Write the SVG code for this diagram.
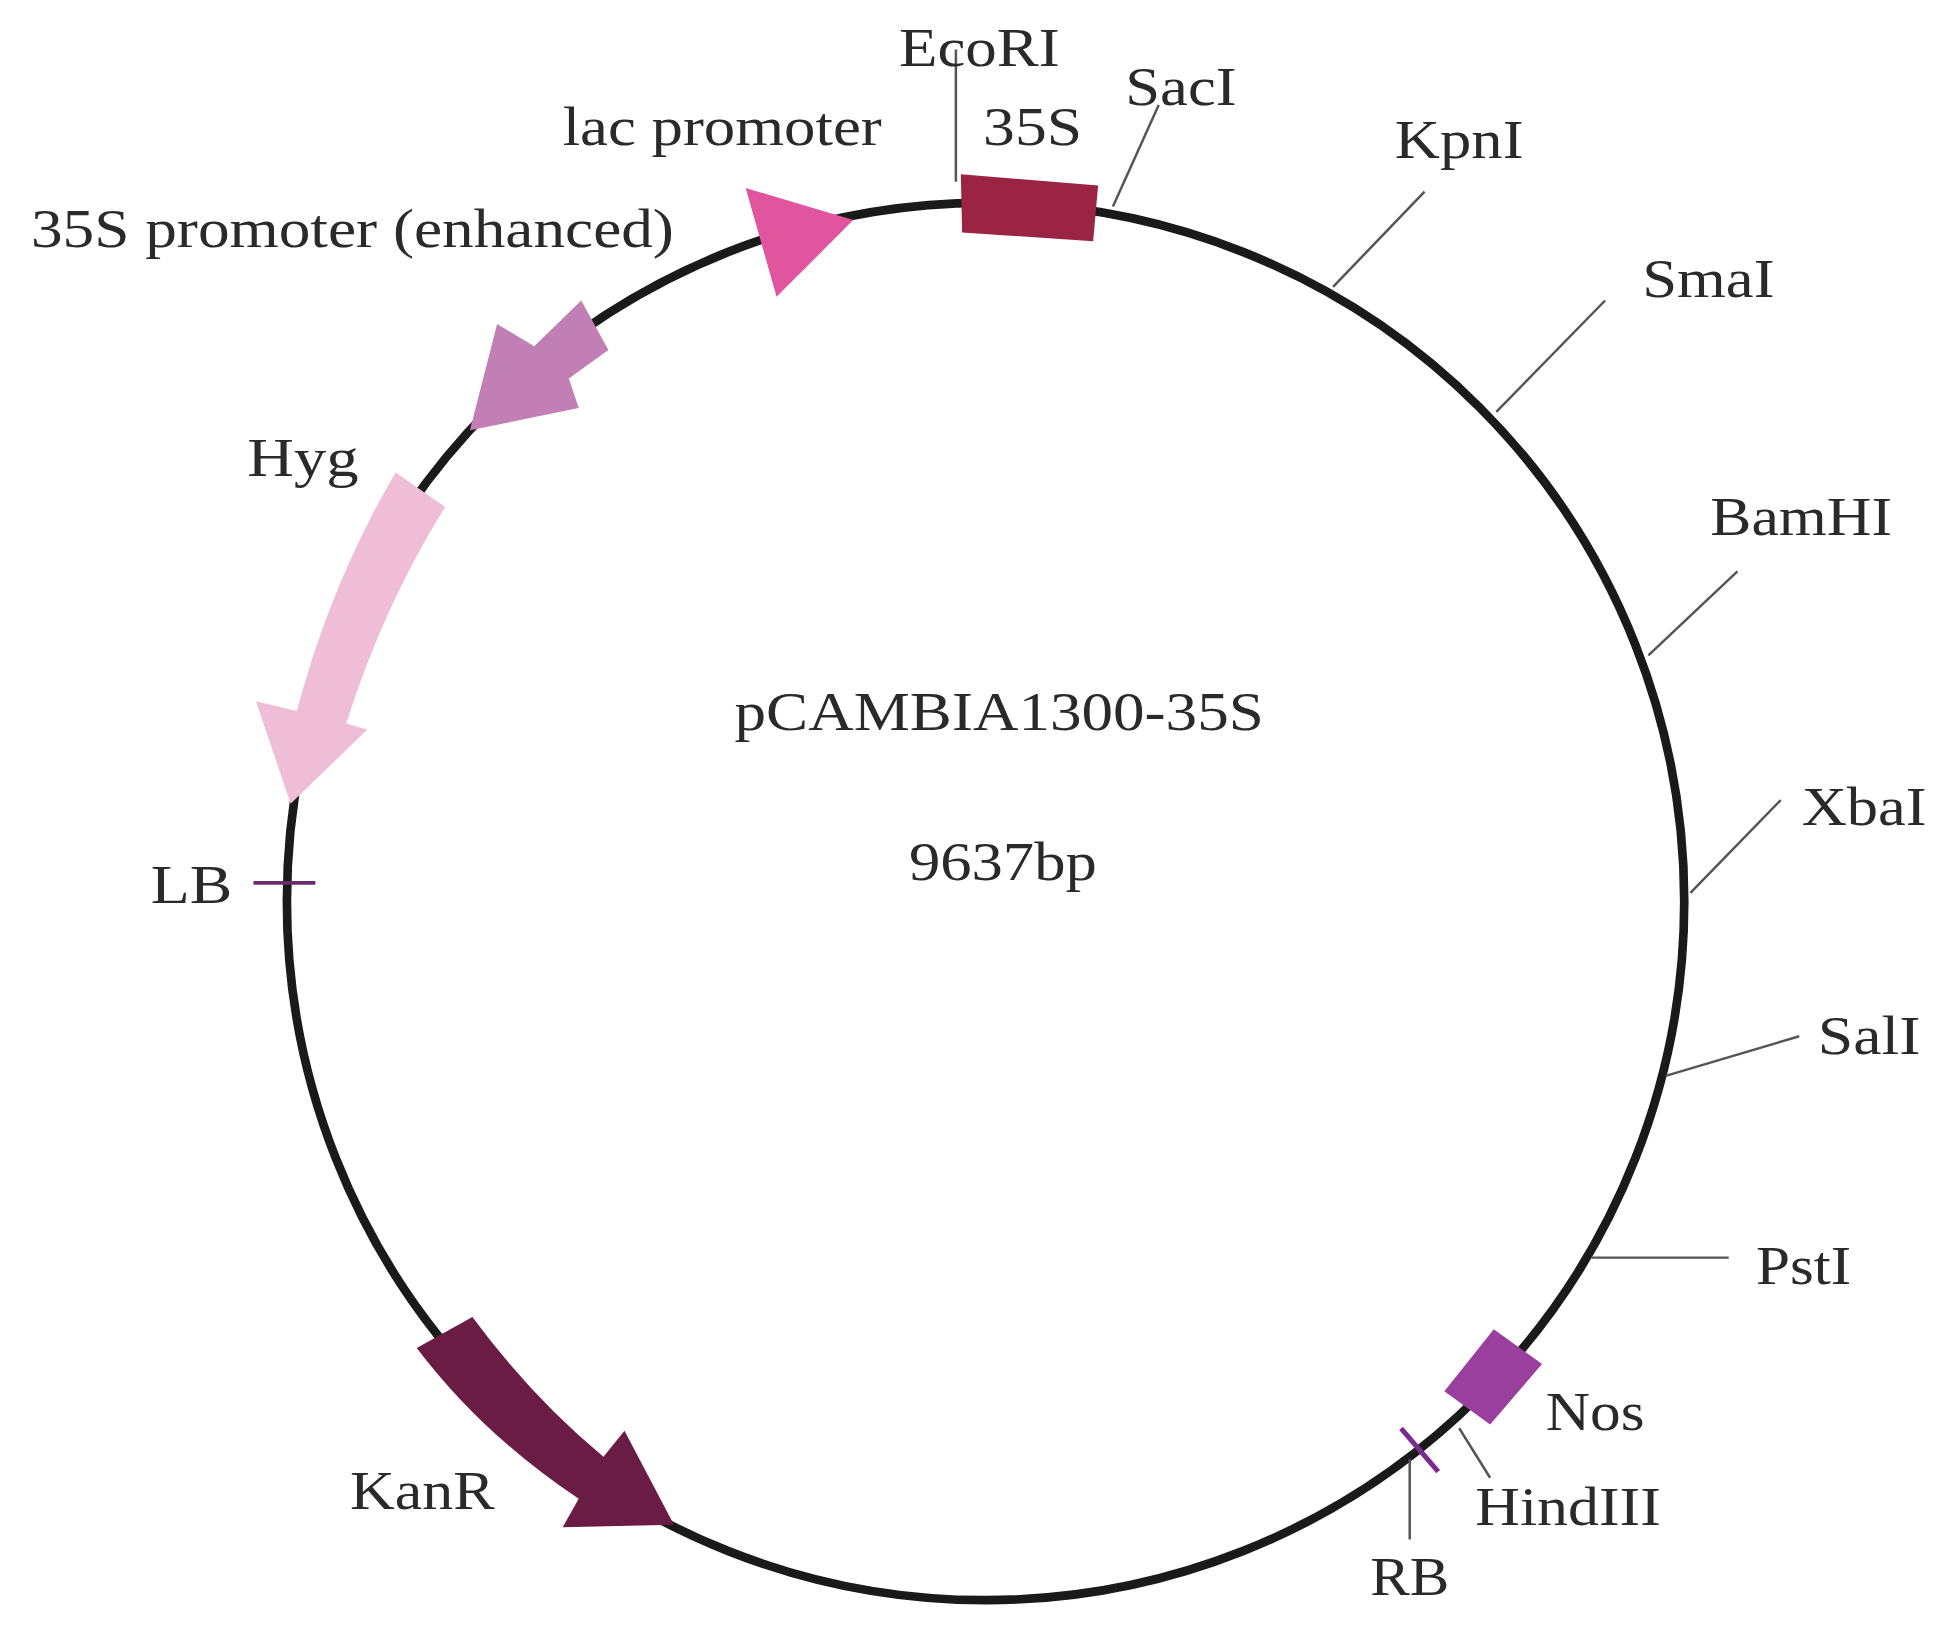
<svg xmlns="http://www.w3.org/2000/svg" width="1939" height="1634" viewBox="0 0 1939 1634">
<style>
text{font-family:"Liberation Serif","Times New Roman",serif;font-size:44px;fill:#2a2a2a}
.s{stroke:#555;stroke-width:2;fill:none}
</style>
<rect width="1939" height="1634" fill="#fff"/>
<g transform="scale(1.2366)">
<g id="backbone"><circle cx="797" cy="729" r="565" fill="none" stroke="#1a1a1a" stroke-width="7"/></g>
<g id="connectors">
<path class="s" d="M773,40V147M937,85L900,167M1152,155L1078,232M1298,243L1210,333M1405,462L1333,530M1440,647L1367,722M1455,838L1347,870M1398,1017H1287M1140,1180V1245M1180,1155L1205,1195"/>
</g>
<g id="p35S"><path d="M777,141 L888,150 L884,195 L778,188 Z" fill="#9b2343"/></g>
<g id="lac"><polygon points="603,152 690,178 628,240" fill="#e0559e"/></g>
<g id="enh35S"><polygon points="470,243 492,283 460,306 468,330 380,348 402,262 432,280" fill="#c27fb5"/></g>
<g id="Hyg"><path d="M320,382 L360,410 Q310,490 280,585 L297,590 L235,650 L207,567 L240,575 Q268,470 320,382 Z" fill="#f0bdd6"/></g>
<g id="KanR"><path d="M337,1090 L382,1065 Q430,1130 488,1178 L505,1157 L545,1233 L455,1235 L468,1212 Q390,1160 337,1090 Z" fill="#6b1c45"/></g>
<g id="Nos"><polygon points="1168,1125 1208,1075 1247,1103 1205,1152" fill="#9b3f9e"/></g>
<g id="RB"><line x1="1133" y1="1155" x2="1163" y2="1190" stroke="#7b2a8e" stroke-width="4"/></g>
<g id="LB"><line x1="205" y1="714" x2="255" y2="714" stroke="#6b2a6e" stroke-width="3"/></g>
<g id="labels" lengthAdjust="spacingAndGlyphs">
<text x="727" y="53" textLength="130" lengthAdjust="spacingAndGlyphs">EcoRI</text>
<text x="910" y="85" textLength="90" lengthAdjust="spacingAndGlyphs">SacI</text>
<text x="795" y="117" textLength="80" lengthAdjust="spacingAndGlyphs">35S</text>
<text x="455" y="117" textLength="258" lengthAdjust="spacingAndGlyphs">lac promoter</text>
<text x="25" y="200" textLength="520" lengthAdjust="spacingAndGlyphs">35S promoter (enhanced)</text>
<text x="1128" y="128" textLength="104" lengthAdjust="spacingAndGlyphs">KpnI</text>
<text x="1328" y="240" textLength="107" lengthAdjust="spacingAndGlyphs">SmaI</text>
<text x="1383" y="433" textLength="147" lengthAdjust="spacingAndGlyphs">BamHI</text>
<text x="1457" y="667" textLength="101" lengthAdjust="spacingAndGlyphs">XbaI</text>
<text x="1470" y="852" textLength="83" lengthAdjust="spacingAndGlyphs">SalI</text>
<text x="1420" y="1038" textLength="77" lengthAdjust="spacingAndGlyphs">PstI</text>
<text x="1250" y="1156" textLength="80" lengthAdjust="spacingAndGlyphs">Nos</text>
<text x="1193" y="1233" textLength="150" lengthAdjust="spacingAndGlyphs">HindIII</text>
<text x="1108" y="1290" textLength="64" lengthAdjust="spacingAndGlyphs">RB</text>
<text x="283" y="1220" textLength="117" lengthAdjust="spacingAndGlyphs">KanR</text>
<text x="122" y="730" textLength="66" lengthAdjust="spacingAndGlyphs">LB</text>
<text x="200" y="385" textLength="90" lengthAdjust="spacingAndGlyphs">Hyg</text>
<text x="594" y="590" textLength="428" lengthAdjust="spacingAndGlyphs">pCAMBIA1300-35S</text>
<text x="735" y="712" textLength="152" lengthAdjust="spacingAndGlyphs">9637bp</text>
</g>
</g>
</svg>
